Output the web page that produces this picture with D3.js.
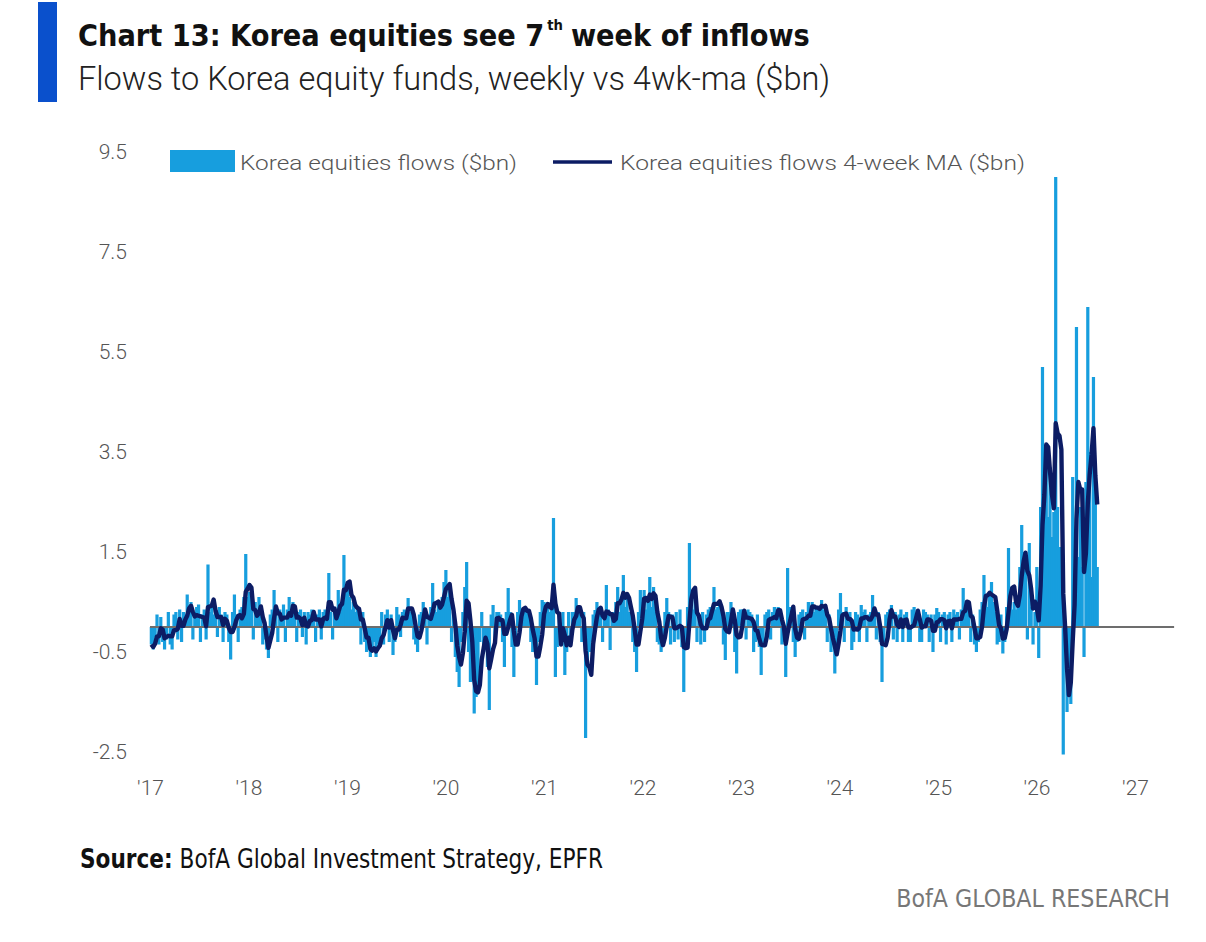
<!DOCTYPE html>
<html>
<head>
<meta charset="utf-8">
<title>Korea equities flows</title>
<script src="https://cdn.jsdelivr.net/npm/d3@7"></script>
<style>
  body { margin: 0; background: #fff; }
  svg { display: block; }
</style>
</head>
<body>
<script>
// weekly flows to Korea equity funds ($bn), one array per year
var flows2017 = [-0.35,-0.45,-0.2,0.25,-0.35,0.2,-0.3,-0.45,-0.25,0.3,
  -0.35,-0.45,0.25,0.3,-0.25,0.35,-0.3,0.3,0.25,0.65,
  0.3,0.5,-0.25,0.3,0.4,0.45,-0.3,0.25,0.35,-0.25,
  1.25,0.3,0.4,0.25,0.35,-0.2,0.4,0.25,-0.3,0.3,
  0.25,-0.3,-0.65,0.3,0.65,0.25,-0.3,0.35,0.4,0.6,1.46,0.6];
var flows2018 = [0.7,0.4,-0.25,0.5,0.25,0.6,0.3,-0.35,-0.25,-0.45,
  -0.62,0.25,0.35,0.74,0.3,-0.3,0.35,0.25,0.45,-0.3,
  0.35,0.6,0.25,0.5,0.3,-0.3,0.3,0.35,-0.2,0.3,
  -0.35,0.3,0.25,0.35,0.3,-0.3,0.25,0.35,-0.25,0.3,
  0.35,0.25,1.08,0.3,-0.25,0.35,0.3,0.74,0.3,0.5,1.44,0.7];
var flows2019 = [0.9,0.6,0.35,0.5,0.3,0.4,0.25,-0.35,0.3,-0.3,
  -0.5,-0.35,-0.6,-0.45,-0.3,-0.6,-0.35,-0.25,0.3,-0.35,
  0.25,0.35,-0.3,0.25,-0.56,-0.3,0.4,0.25,-0.2,0.3,
  0.35,0.25,0.58,0.3,0.35,-0.25,-0.35,-0.5,0.25,0.3,
  0.5,0.35,-0.35,0.25,0.4,0.88,0.35,0.3,0.5,0.4,0.6,0.9];
var flows2020 = [1.14,0.6,0.8,-0.3,0.3,-0.6,-0.9,-1.2,-0.3,0.3,
  0.8,1.3,-0.5,-1.1,-0.9,-1.73,-1.4,-1.2,-0.3,0.3,
  -0.5,-0.35,-0.8,-1.66,0.25,0.44,-0.3,0.3,0.3,0.25,
  -0.3,-0.8,0.3,0.78,0.3,-0.4,-1.0,-0.3,0.3,0.54,
  0.3,0.3,0.4,0.3,0.3,-0.3,-0.5,-0.4,-1.16,-0.3,0.3,0.54];
var flows2021 = [0.5,0.3,0.5,0.3,0.4,2.18,-1.0,-0.4,0.3,-0.3,
  0.3,-0.96,-0.5,0.3,-0.3,0.3,0.3,0.58,0.4,0.3,
  -0.3,0.3,-2.22,-0.8,-0.5,-0.3,0.25,0.34,0.5,0.3,
  0.4,-0.3,0.3,0.84,0.35,-0.46,0.3,0.3,0.5,0.8,
  0.3,0.6,1.04,0.4,0.6,0.3,0.3,-0.3,-0.5,-0.9,0.3,0.74,0.5];
var flows2022 = [0.74,0.35,0.5,1.0,0.4,0.8,0.3,-0.3,-0.35,-0.5,
  -0.3,0.3,0.58,0.3,-0.35,0.25,-0.3,0.3,-0.25,0.35,
  -0.4,-1.3,-0.35,0.4,1.68,0.5,0.35,0.6,-0.3,0.25,
  -0.35,0.3,-0.3,0.25,0.35,0.4,0.3,0.8,0.35,0.4,
  0.5,0.35,-0.35,-0.66,0.3,0.3,0.5,0.3,-0.5,-0.93,0.3,0.35];
var flows2023 = [0.35,0.3,-0.25,0.35,0.3,0.25,-0.5,-0.3,0.25,-0.4,
  -0.96,-0.35,0.25,0.3,0.35,-0.25,0.3,0.4,0.25,0.4,
  0.3,-0.35,-0.3,-1.0,1.18,0.4,0.35,-0.3,-0.6,-0.3,
  0.25,0.3,0.35,-0.25,0.3,0.5,0.35,0.5,0.3,0.4,
  0.35,0.4,0.54,0.35,0.4,-0.3,0.25,-0.5,-0.35,-0.93,-0.4,0.35];
var flows2024 = [0.68,0.3,-0.3,0.4,0.25,0.3,-0.46,-0.3,0.3,0.25,
  -0.3,0.44,0.3,0.35,-0.3,0.25,0.3,0.64,0.3,-0.25,
  0.3,-0.3,-1.1,-0.3,0.25,0.3,0.35,0.44,-0.25,0.3,
  -0.3,0.25,0.35,-0.3,0.25,0.3,-0.3,-0.3,0.35,0.4,
  0.25,0.3,-0.3,-0.3,0.35,0.3,0.25,-0.3,0.25,-0.5,0.25,0.38];
var flows2025 = [0.3,-0.3,0.25,0.3,-0.35,0.25,0.3,-0.3,0.35,0.25,
  0.3,-0.25,0.35,0.78,0.4,0.5,0.3,-0.3,0.25,-0.35,
  -0.5,-0.3,0.35,0.5,1.04,0.6,0.4,0.7,0.9,0.5,
  0.3,-0.35,-0.3,0.25,-0.53,-0.3,0.4,1.58,0.8,0.35,
  0.5,0.35,0.5,1.2,2.04,1.5,1.2,-0.25,1.68,0.4,-0.35,0.3];
var flows2026 = [1.2,-0.62,2.4,5.2,3.6,3.4,2.2,3.2,1.8,2.3,
  9.0,2.4,1.6,1.2,-2.55,-0.3,-1.7,-0.9,-1.54,3.0,
  1.2,6.0,1.4,2.4,1.2,-0.6,2.9,6.4,3.5,1.0,
  5.0,2.6,1.2];

var firstWeek = new Date(2017, 0, 6);   // weeks end on Fridays
var yTicks = [-2.5, -0.5, 1.5, 3.5, 5.5, 7.5, 9.5];
var yearTicks = [2017, 2018, 2019, 2020, 2021, 2022, 2023, 2024, 2025, 2026, 2027];
var yearLabels = ["'17", "'18", "'19", "'20", "'21", "'22", "'23", "'24", "'25", "'26", "'27"];

var titleText = ["Chart 13: Korea equities see 7", "th", "week of inflows"];
var subtitleText = "Flows to Korea equity funds, weekly vs 4wk-ma ($bn)";
var legendBars = "Korea equities flows ($bn)";
var legendLine = "Korea equities flows 4-week MA ($bn)";

var barColor = "#179ede";
var maColor = "#0c1c64";
var narrow = "'Liberation Sans Narrow', 'DejaVu Sans Condensed', sans-serif";
var light = "Roboto, 'Open Sans', sans-serif";

var width = 1206, height = 942;
var svg = d3.select("body").append("svg").attr("width", width).attr("height", height);

// squeeze a text to the width it has in the picture
function fit(sel, target) {
  var w = sel.node().getComputedTextLength();
  if (Math.abs(w - target) > 2) {
    sel.attr("textLength", target).attr("lengthAdjust", "spacingAndGlyphs");
  }
}
// resize the font so the text takes the width it has in the picture
function fitSize(sel, target) {
  var w = sel.node().getComputedTextLength();
  sel.attr("font-size", +sel.attr("font-size") * target / w);
}

var flows = [].concat(flows2017, flows2018, flows2019, flows2020, flows2021,
  flows2022, flows2023, flows2024, flows2025, flows2026);
var weeks = flows.map(function(v, i) {
  return { date: d3.timeDay.offset(firstWeek, 7 * i), value: v };
});
// 4-week moving average of the weekly flows
weeks.forEach(function(d, i) {
  d.ma = d3.mean(weeks.slice(Math.max(0, i - 3), i + 1), function(e) { return e.value; });
});

var x = d3.scaleTime()
  .domain([new Date(2017, 0, 1), new Date(2027, 0, 1)])
  .range([150, 1135]);
var y = d3.scaleLinear()
  .domain([-2.5, 9.5])
  .range([752, 152]);

// header
svg.append("rect").attr("x", 38).attr("y", 2).attr("width", 19).attr("height", 100)
  .attr("fill", "#0a50cc");

// title in three pieces so the superscript sits on its own
var t1 = svg.append("text").attr("y", 46)
  .attr("font-family", narrow).attr("font-weight", "bold")
  .attr("font-size", 33).attr("fill", "#111").text(titleText[0]);
var t2 = svg.append("text").attr("y", 30)
  .attr("font-family", narrow).attr("font-weight", "bold")
  .attr("font-size", 16).attr("fill", "#111").text(titleText[1]);
var t3 = svg.append("text").attr("y", 46)
  .attr("font-family", narrow).attr("font-weight", "bold")
  .attr("font-size", 33).attr("fill", "#111").text(titleText[2]);
var gaps = [3, 8];
var parts = [t1, t2, t3];
var k = (732 - d3.sum(gaps)) /
  d3.sum(parts, function(t) { return t.node().getComputedTextLength(); });
var tx = 78;
parts.forEach(function(t, i) {
  t.attr("font-size", +t.attr("font-size") * k).attr("x", tx);
  tx += t.node().getComputedTextLength() + (gaps[i] || 0);
});

var subtitle = svg.append("text")
  .attr("x", 78).attr("y", 90)
  .attr("font-family", light).attr("font-weight", 300)
  .attr("font-size", 33).attr("fill", "#222")
  .text(subtitleText);
fit(subtitle, 752);

// bars
var barW = x(d3.timeDay.offset(firstWeek, 7)) - x(firstWeek);
svg.append("g").selectAll("rect")
  .data(weeks)
  .join("rect")
  .attr("x", function(d) { return x(d.date) - barW * 0.85; })
  .attr("width", barW * 1.7)
  .attr("y", function(d) { return y(Math.max(0, d.value)); })
  .attr("height", function(d) { return Math.abs(y(d.value) - y(0)); })
  .attr("fill", barColor);

// zero line
svg.append("line")
  .attr("x1", x(new Date(2017, 0, 1))).attr("x2", x(new Date(2027, 4, 26)))
  .attr("y1", y(0)).attr("y2", y(0))
  .attr("stroke", "#6d6d6d").attr("stroke-width", 2.2);

// 4-week MA
svg.append("path")
  .datum(weeks)
  .attr("fill", "none")
  .attr("stroke", maColor)
  .attr("stroke-width", 4.4)
  .attr("stroke-linejoin", "round")
  .attr("d", d3.line()
    .x(function(d) { return x(d.date); })
    .y(function(d) { return y(d.ma); }));

// axes
var axisY = d3.axisLeft(y).tickValues(yTicks).tickSize(0).tickPadding(0)
  .tickFormat(function(d) { return d.toFixed(1); });
var gy = svg.append("g").attr("transform", "translate(127,0)").call(axisY);
gy.select(".domain").remove();
gy.selectAll("text").attr("font-family", light).attr("font-weight", 300)
  .attr("font-size", 21).attr("fill", "#555");

var axisX = d3.axisBottom(x)
  .tickValues(yearTicks.map(function(yr) { return new Date(yr, 0, 1); }))
  .tickSize(0).tickPadding(0)
  .tickFormat(function(d, i) { return yearLabels[i]; });
var gx = svg.append("g").attr("transform", "translate(0,780)").call(axisX);
gx.select(".domain").remove();
gx.selectAll("text").attr("font-family", light).attr("font-weight", 300)
  .attr("font-size", 21).attr("fill", "#555");

// legend
svg.append("rect").attr("x", 170).attr("y", 150).attr("width", 65).attr("height", 22)
  .attr("fill", barColor);
var lt1 = svg.append("text").attr("x", 240).attr("y", 170)
  .attr("font-family", light).attr("font-weight", 300)
  .attr("font-size", 21).attr("fill", "#555")
  .text(legendBars);
fit(lt1, 277);
svg.append("line").attr("x1", 553).attr("x2", 612).attr("y1", 162).attr("y2", 162)
  .attr("stroke", maColor).attr("stroke-width", 3.6);
var lt2 = svg.append("text").attr("x", 620).attr("y", 170)
  .attr("font-family", light).attr("font-weight", 300)
  .attr("font-size", 21).attr("fill", "#555")
  .text(legendLine);
fit(lt2, 405);

// footer
var source = svg.append("text").attr("x", 80).attr("y", 868)
  .attr("font-family", narrow).attr("font-size", 26).attr("fill", "#111");
source.append("tspan").attr("font-weight", "bold").text("Source:");
source.append("tspan").text(" BofA Global Investment Strategy, EPFR");
fit(source, 523);

var brand = svg.append("text").attr("x", 1170).attr("y", 907)
  .attr("text-anchor", "end")
  .attr("font-family", narrow)
  .attr("font-size", 28).attr("fill", "#777")
  .text("BofA GLOBAL RESEARCH");
fitSize(brand, 274);
</script>
</body>
</html>
